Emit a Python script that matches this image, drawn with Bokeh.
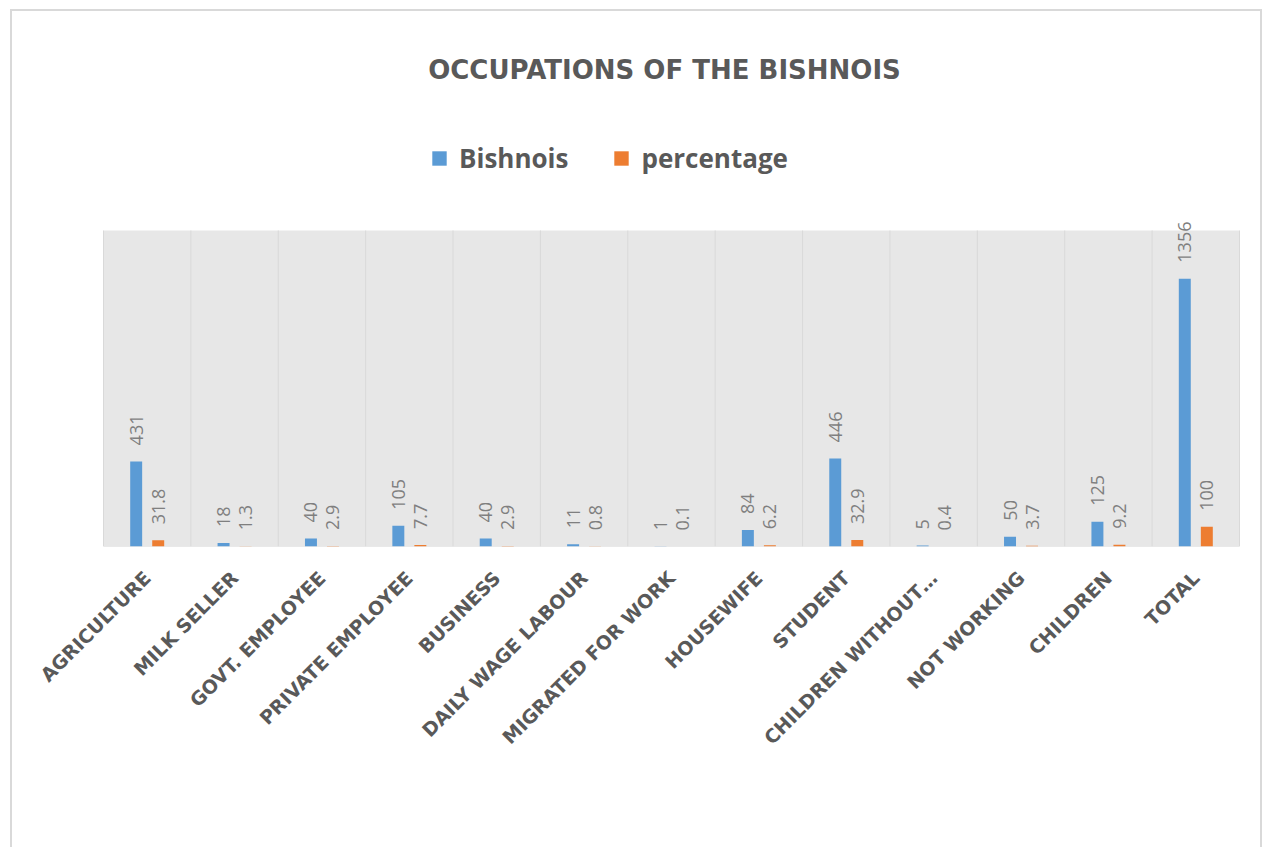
import math
from bokeh.plotting import figure
from bokeh.models import (ColumnDataSource, Range1d, Legend, LegendItem, LabelSet,
                          Label, BoxAnnotation, FixedTicker)
from bokeh.core.properties import value
from bokeh.embed import file_html
from bokeh.resources import INLINE

categories = ["AGRICULTURE", "MILK SELLER", "GOVT. EMPLOYEE", "PRIVATE EMPLOYEE",
              "BUSINESS", "DAILY WAGE LABOUR", "MIGRATED FOR WORK", "HOUSEWIFE",
              "STUDENT", "CHILDREN WITHOUT…", "NOT WORKING", "CHILDREN", "TOTAL"]
bishnois = [431, 18, 40, 105, 40, 11, 1, 84, 446, 5, 50, 125, 1356]
percentage = [31.8, 1.3, 2.9, 7.7, 2.9, 0.8, 0.1, 6.2, 32.9, 0.4, 3.7, 9.2, 100]
y_axis_max = 1600

BLUE = "#5B9BD5"
ORANGE = "#ED7D31"
TEXT = "#595959"
LABEL = "#7F7F7F"
GRID = "#D9D9D9"

n = len(categories)
centers = [i + 0.5 for i in range(n)]
off = 0.126
bw = 0.137

src = ColumnDataSource(dict(
    xb=[c - off for c in centers],
    xp=[c + off for c in centers],
    b=bishnois,
    pc=percentage,
    bl=[str(v) for v in bishnois],
    pl=[f"{v:g}" for v in percentage],
))

# layout: the frame covers the whole upper part of the canvas
W, H = 1252, 838
FRAME_H = 537
AREA_LEFT, AREA_RIGHT = 93, 1229   # grey plot area, canvas pixels
AREA_H = 316                       # pixel height of the grey plot area
CAT_W = (AREA_RIGHT - AREA_LEFT) / n
y_end = y_axis_max * FRAME_H / AREA_H
x_start = -AREA_LEFT / CAT_W
x_end = n + (W - AREA_RIGHT) / CAT_W

p = figure(x_range=Range1d(x_start, x_end), y_range=Range1d(0, y_end),
           frame_width=W, frame_height=FRAME_H,
           output_backend="svg", toolbar_location=None,
           min_border_left=0, min_border_right=0, min_border_top=0,
           min_border_bottom=H - FRAME_H,
           background_fill_alpha=0, border_fill_alpha=0)
p.styles = {"margin-left": "10px", "margin-top": "9px",
            "box-shadow": "inset 2px 2px 0 0 #D9D9D9, inset -2px 0 0 0 #D9D9D9"}

p.xgrid.visible = False
p.ygrid.visible = False
p.outline_line_color = None
p.yaxis.visible = False

# grey plot area
p.add_layout(BoxAnnotation(left=0, right=n, bottom=0, top=y_axis_max,
                           fill_color="#E7E7E7", fill_alpha=1, line_color=None,
                           level="underlay"))
# category separators and baseline
p.segment(x0=list(range(n + 1)), x1=list(range(n + 1)),
          y0=[0] * (n + 1), y1=[y_axis_max] * (n + 1), line_color=GRID, line_width=1)
p.segment(x0=[0], x1=[n], y0=[0], y1=[0], line_color=GRID, line_width=1)

rb = p.vbar(x="xb", top="b", width=bw, source=src, fill_color=BLUE, line_color=None)
ro = p.vbar(x="xp", top="pc", width=bw, source=src, fill_color=ORANGE, line_color=None)

for xs, ys, ts in (("xb", "b", "bl"), ("xp", "pc", "pl")):
    p.add_layout(LabelSet(x=xs, y=ys, text=ts, source=src,
                          angle=math.pi / 2, text_align="left", text_baseline="middle",
                          y_offset=16, text_font=value("Open Sans"),
                          text_font_size=value("18px"), text_color=LABEL))

ax = p.xaxis[0]
ax.ticker = FixedTicker(ticks=centers)
ax.major_label_overrides = {c: name for c, name in zip(centers, categories)}
ax.major_label_orientation = math.pi / 4
ax.major_label_text_font = "DejaVu Sans"
ax.major_label_text_font_style = "bold"
ax.major_label_text_font_size = "19px"
ax.major_label_text_color = TEXT
ax.major_tick_line_color = None
ax.minor_tick_line_color = None
ax.axis_line_color = None
ax.major_label_standoff = 22

legend = Legend(items=[LegendItem(label="Bishnois", renderers=[rb]),
                       LegendItem(label="percentage", renderers=[ro])],
                orientation="horizontal", location=(420, 370), margin=0, padding=0,
                spacing=44, label_standoff=11, glyph_width=18, glyph_height=18,
                label_text_font="Open Sans", label_text_font_style="bold",
                label_text_font_size="26px", label_text_color=TEXT,
                border_line_color=None, background_fill_alpha=0)
p.add_layout(legend, "center")

p.add_layout(Label(x=654, y=FRAME_H - 60, x_units="screen", y_units="screen",
                   text="OCCUPATIONS OF THE BISHNOIS", text_align="center",
                   text_baseline="middle", text_font="DejaVu Sans",
                   text_font_style="bold", text_font_size="26px", text_color=TEXT))

open("out.html", "w").write(file_html(p, INLINE))
